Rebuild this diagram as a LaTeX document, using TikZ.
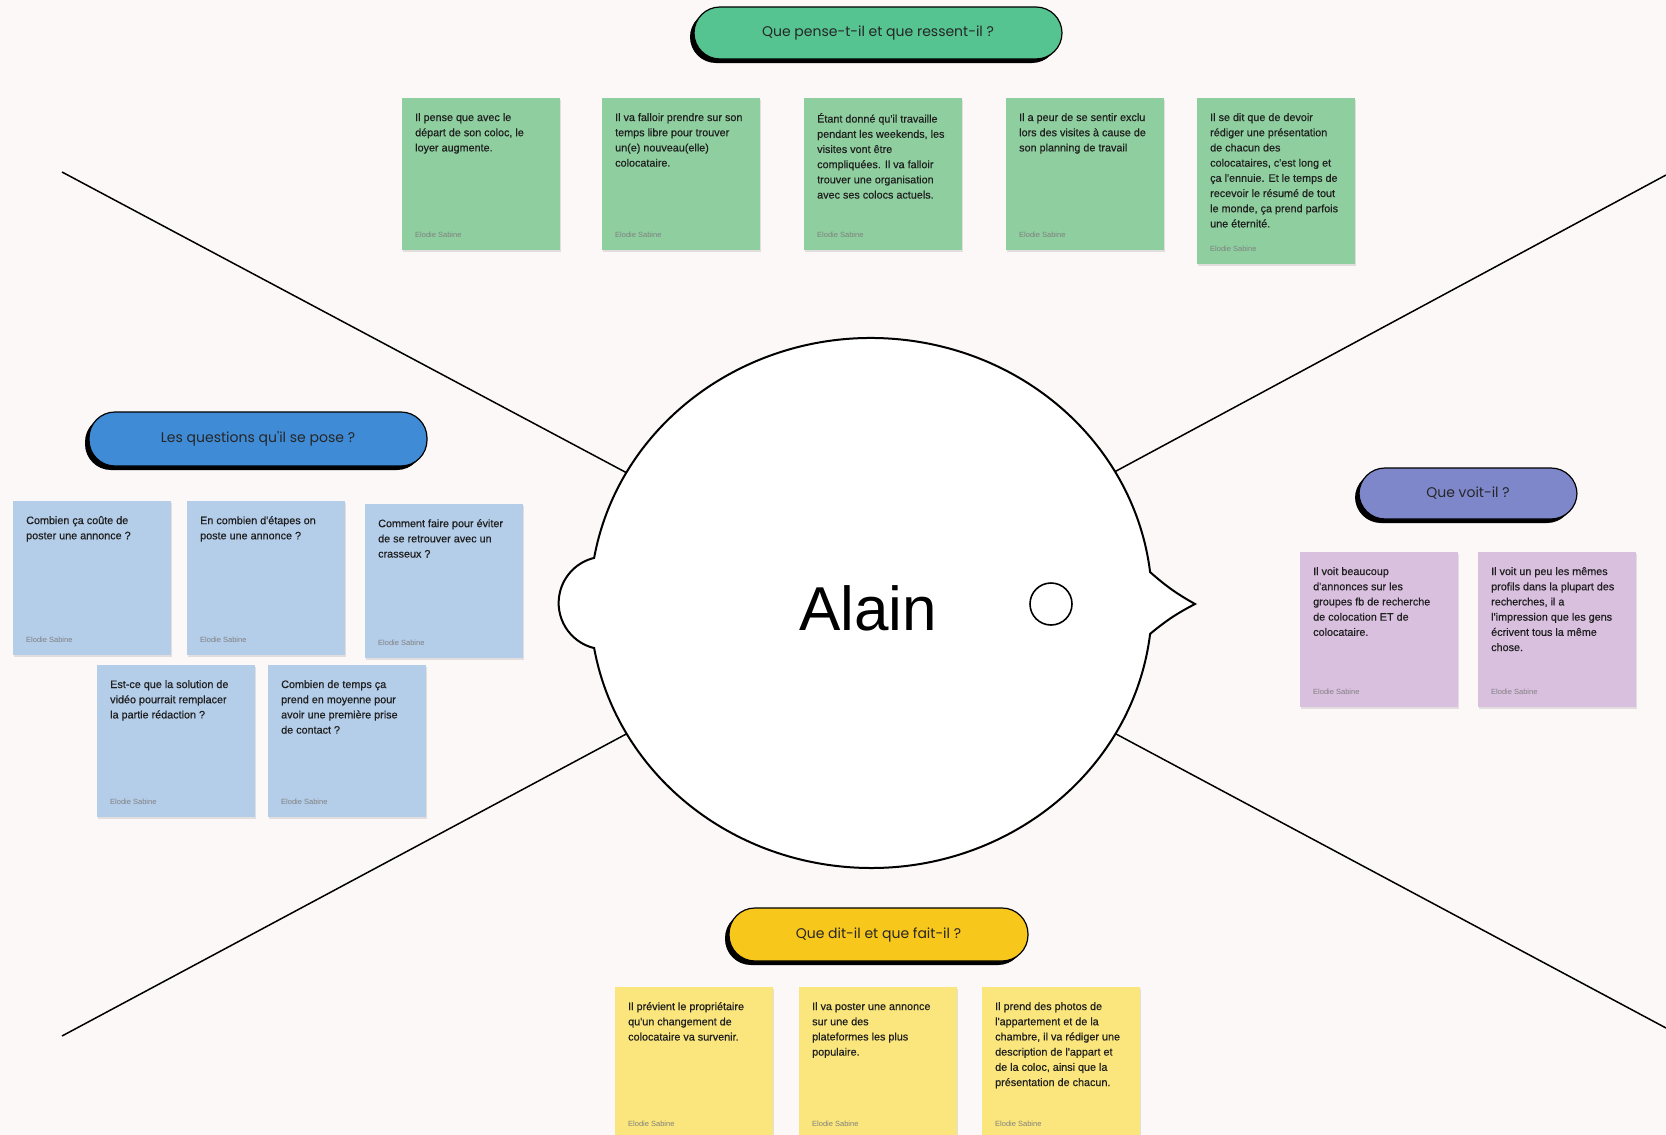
\documentclass[tikz,border=0pt]{standalone}
\usepackage{fontspec}
\setmainfont{Liberation Sans}
\newfontfamily\pillfont{Poppins}
\newfontfamily\notefont[FakeBold=0.5]{Liberation Sans}
\usetikzlibrary{shadows}
\definecolor{bgcol}{HTML}{FCF8F8}
\definecolor{gpill}{HTML}{55C491}
\definecolor{gnote}{HTML}{8FCE9F}
\definecolor{bpill}{HTML}{3F8BD6}
\definecolor{bnote}{HTML}{B4CDE9}
\definecolor{ppill}{HTML}{7F87CB}
\definecolor{pnote}{HTML}{D9C0DF}
\definecolor{ypill}{HTML}{F8C71C}
\definecolor{ynote}{HTML}{FAE67C}
\newcommand{\stickynote}[5]{%
  \node[note, fill=#3, minimum height=#4pt] (#1) at #2 {};
  \node[notetxt] (#1-t) at ([xshift=13pt,yshift=-15pt]#1.north west) {#5};
  \node[author] (#1-a) at ([xshift=13pt,yshift=13pt]#1.south west) {Elodie Sabine};
}
\begin{document}
\begin{tikzpicture}[x=1pt,y=-1pt,
  note/.style={rectangle, minimum width=158pt, anchor=north west, inner sep=0pt, draw=none,
    drop shadow={shadow xshift=1pt, shadow yshift=-2pt, fill=black, opacity=0.10}},
  notetxt/.style={anchor=north west, inner sep=0pt, align=left,
    font=\notefont\fontsize{10.8}{15.2}\selectfont, text=black!88},
  author/.style={anchor=south west, inner sep=0pt, font=\fontsize{7.5}{9}\selectfont, text=black!50},
  pill/.style={rectangle, rounded corners=26pt, draw=black, line width=1.2pt, minimum height=52pt,
    inner sep=0pt, font=\pillfont\fontsize{14}{16}\selectfont, text=black!85,
    drop shadow={shadow xshift=-4pt, shadow yshift=-4pt, fill=black, opacity=1}},
  divider/.style={line width=1.5pt, draw=black},
  headline/.style={line width=2pt, draw=black}]

\fill[bgcol] (0,0) rectangle (1666,1135);
\useasboundingbox (0,0) rectangle (1666,1135);

% divider lines
\coordinate (hc) at (871,603);
\coordinate (ul) at (62,172);
\coordinate (ur) at (1666,175);
\coordinate (ll) at (62,1036);
\coordinate (lr) at (1666,1028);
\draw[divider] (ul) -- (hc);
\draw[divider] (ur) -- (hc);
\draw[divider] (ll) -- (hc);
\draw[divider] (lr) -- (hc);

% head
\draw[headline, fill=white] (1150.1,633.9)
  arc[start angle=6.7, end angle=170.2, x radius=281, y radius=265]
  arc[start angle=103.6, end angle=256.4, radius=46.4]
  arc[start angle=189.8, end angle=353.3, x radius=281, y radius=265]
  to[bend right=6] (1195,604) to[bend right=6] cycle;
\node[circle, draw, line width=1.6pt, minimum size=42pt, fill=white] (eye) at (1051,604) {};
\node[font=\fontsize{62}{62}\selectfont, anchor=base, inner sep=0pt] (name) at (868,630) {Alain};

% pills
\node[pill, fill=gpill, minimum width=368pt, minimum height=52pt] (pthink) at (878,33) {Que pense-t-il et que ressent-il ?};
\node[pill, fill=bpill, minimum width=338pt, minimum height=54pt] (pask) at (258,439) {Les questions qu'il se pose ?};
\node[pill, fill=ppill, minimum width=218pt, minimum height=51pt] (psee) at (1468,493.5) {Que voit-il ?};
\node[pill, fill=ypill, minimum width=299pt, minimum height=53pt] (pdo) at (878.5,934.5) {Que dit-il et que fait-il ?};

% green notes
\stickynote{g1}{(402,98)}{gnote}{152}{Il pense que avec le\\départ de son coloc, le\\loyer augmente.}
\stickynote{g2}{(602,98)}{gnote}{152}{Il va falloir prendre sur son\\temps libre pour trouver\\un(e) nouveau(elle)\\colocataire.}
\stickynote{g3}{(804,98)}{gnote}{152}{Étant donné qu'il travaille\\pendant les weekends, les\\visites vont être\\compliquées. Il va falloir\\trouver une organisation\\avec ses colocs actuels.}
\stickynote{g4}{(1006,98)}{gnote}{152}{Il a peur de se sentir exclu\\lors des visites à cause de\\son planning de travail}
\stickynote{g5}{(1197,98)}{gnote}{166}{Il se dit que de devoir\\rédiger une présentation\\de chacun des\\colocataires, c'est long et\\ça l'ennuie. Et le temps de\\recevoir le résumé de tout\\le monde, ça prend parfois\\une éternité.}

% blue notes
\stickynote{b1}{(13,501)}{bnote}{154}{Combien ça coûte de\\poster une annonce ?}
\stickynote{b2}{(187,501)}{bnote}{154}{En combien d'étapes on\\poste une annonce ?}
\stickynote{b3}{(365,504)}{bnote}{154}{Comment faire pour éviter\\de se retrouver avec un\\crasseux ?}
\stickynote{b4}{(97,665)}{bnote}{152}{Est-ce que la solution de\\vidéo pourrait remplacer\\la partie rédaction ?}
\stickynote{b5}{(268,665)}{bnote}{152}{Combien de temps ça\\prend en moyenne pour\\avoir une première prise\\de contact ?}

% purple notes
\stickynote{p1}{(1300,552)}{pnote}{155}{Il voit beaucoup\\d'annonces sur les\\groupes fb de recherche\\de colocation ET de\\colocataire.}
\stickynote{p2}{(1478,552)}{pnote}{155}{Il voit un peu les mêmes\\profils dans la plupart des\\recherches, il a\\l'impression que les gens\\écrivent tous la même\\chose.}

% yellow notes
\stickynote{y1}{(615,987)}{ynote}{152}{Il prévient le propriétaire\\qu'un changement de\\colocataire va survenir.}
\stickynote{y2}{(799,987)}{ynote}{152}{Il va poster une annonce\\sur une des\\plateformes les plus\\populaire.}
\stickynote{y3}{(982,987)}{ynote}{152}{Il prend des photos de\\l'appartement et de la\\chambre, il va rédiger une\\description de l'appart et\\de la coloc, ainsi que la\\présentation de chacun.}

\end{tikzpicture}
\end{document}
